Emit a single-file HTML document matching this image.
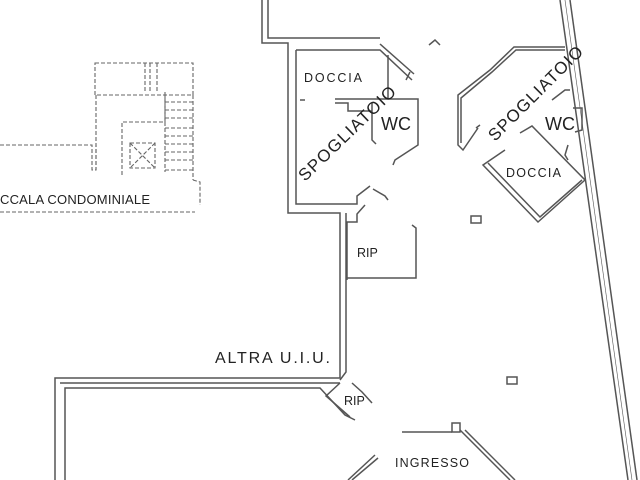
<!DOCTYPE html>
<html><head><style>
html,body{margin:0;padding:0;background:#fff;width:640px;height:480px;overflow:hidden}
svg{display:block}
text{font-family:"Liberation Sans",sans-serif;fill:#222}
</style></head><body>
<svg width="640" height="480" viewBox="0 0 640 480" xmlns="http://www.w3.org/2000/svg">
<g fill="none" stroke="#555" stroke-width="1.5">
<polyline points="262,0 262,43 288,43 288,213 340,213 340,378 60,378 55,378 55,480"/>
<polyline points="268,0 268,38 380,38"/>
<polyline points="296,50 296,204 357,204 357,196 370,186"/>
<polyline points="296,50 380,50 412,80"/>
<polyline points="380,44 414,74"/>
<polyline points="388,55 388,99"/>
<polyline points="335,99 418,99 418,145 395,160 393,165"/>
<polyline points="335,103 348,103 348,111 372,111"/>
<polyline points="372,103 372,140 376,144"/>
<polyline points="373,189 385,196 388,200"/>
<polyline points="347,280 347,222 357,222 357,214 365,205"/>
<polyline points="347,278 416,278 416,228 412,225"/>
<polyline points="410,72 406,80"/>
<line x1="300" y1="100" x2="305" y2="100"/>
<polyline points="346,213 346,372 340,380"/>
<polyline points="65,480 65,388 320,388 345,415 355,420"/>
<polyline points="352,383 362,392 372,403"/>
<polyline points="340,383 326,396 350,417"/>
<line x1="60" y1="383" x2="340" y2="383"/>
<polyline points="565,47 514,47 490,70 458,95 458,145 463,150 478,128"/>
<polyline points="565,50 516,50 492,72 461,98 461,143"/>
<polyline points="476,128 480,125"/>
<polyline points="505,150 483,165 538,222 585,180 532,126 520,133"/>
<polyline points="488,163 540,217 582,180"/>
<polyline points="552,100 565,90 570,90"/>
<polyline points="573,108 582,108 582,130 575,132"/>
<polyline points="568,145 565,155 568,160"/>
<polyline points="429,45 435,40 440,45"/>
<rect x="471" y="216" width="10" height="7"/>
<rect x="507" y="377" width="10" height="7"/>
<line x1="560" y1="0" x2="628" y2="480"/>
<line x1="570" y1="0" x2="637" y2="480"/>
<line x1="565" y1="0" x2="632" y2="480" stroke-width="0.6"/>
<polyline points="402,432 452,432"/>
<rect x="452" y="423" width="8" height="9"/>
<polyline points="460,430 510,480"/>
<polyline points="465,430 515,480"/>
<polyline points="375,455 348,480"/>
<polyline points="378,458 352,480"/>
</g>
<g fill="none" stroke="#666" stroke-width="1.1" stroke-dasharray="4,2">
<polyline points="0,145 92,145 92,170 96,170 96,145"/>
<rect x="95" y="63" width="98" height="32"/>
<line x1="145" y1="63" x2="145" y2="92"/>
<line x1="150" y1="63" x2="150" y2="92"/>
<line x1="157" y1="63" x2="157" y2="92"/>
<polyline points="96,95 96,170"/>
<polyline points="122,175 122,122 165,122 165,95"/>
<rect x="130" y="143" width="25" height="25"/>
<line x1="130" y1="143" x2="155" y2="168"/>
<line x1="155" y1="143" x2="130" y2="168"/>
<line x1="165" y1="92" x2="165" y2="172"/>
<line x1="193" y1="95" x2="193" y2="180"/>
<g><line x1="165" y1="102" x2="193" y2="102"/><line x1="165" y1="110" x2="193" y2="110"/><line x1="165" y1="118" x2="193" y2="118"/><line x1="165" y1="128" x2="193" y2="128"/><line x1="165" y1="136" x2="193" y2="136"/><line x1="165" y1="144" x2="193" y2="144"/><line x1="165" y1="152" x2="193" y2="152"/><line x1="165" y1="160" x2="193" y2="160"/><line x1="165" y1="170" x2="193" y2="170"/></g>
<polyline points="193,180 200,182 200,205"/>
<line x1="0" y1="212" x2="195" y2="212"/>
</g>
<text x="0" y="204" font-size="13" textLength="150">CCALA CONDOMINIALE</text>
<text x="304" y="82" font-size="12.5" textLength="58">DOCCIA</text>
<text x="381" y="130" font-size="18">WC</text>
<text x="0" y="0" font-size="17" textLength="128" transform="translate(305,182) rotate(-44)">SPOGLIATOIO</text>
<text x="0" y="0" font-size="17" textLength="126" transform="translate(495,142) rotate(-45)">SPOGLIATOIO</text>
<text x="545" y="130" font-size="18">WC</text>
<text x="506" y="177" font-size="12.5" textLength="55">DOCCIA</text>
<text x="357" y="257" font-size="12.5">RIP</text>
<text x="215" y="363" font-size="16" textLength="115">ALTRA U.I.U.</text>
<text x="344" y="405" font-size="12.5">RIP</text>
<text x="395" y="467" font-size="12.5" textLength="74">INGRESSO</text>
</svg>
</body></html>
